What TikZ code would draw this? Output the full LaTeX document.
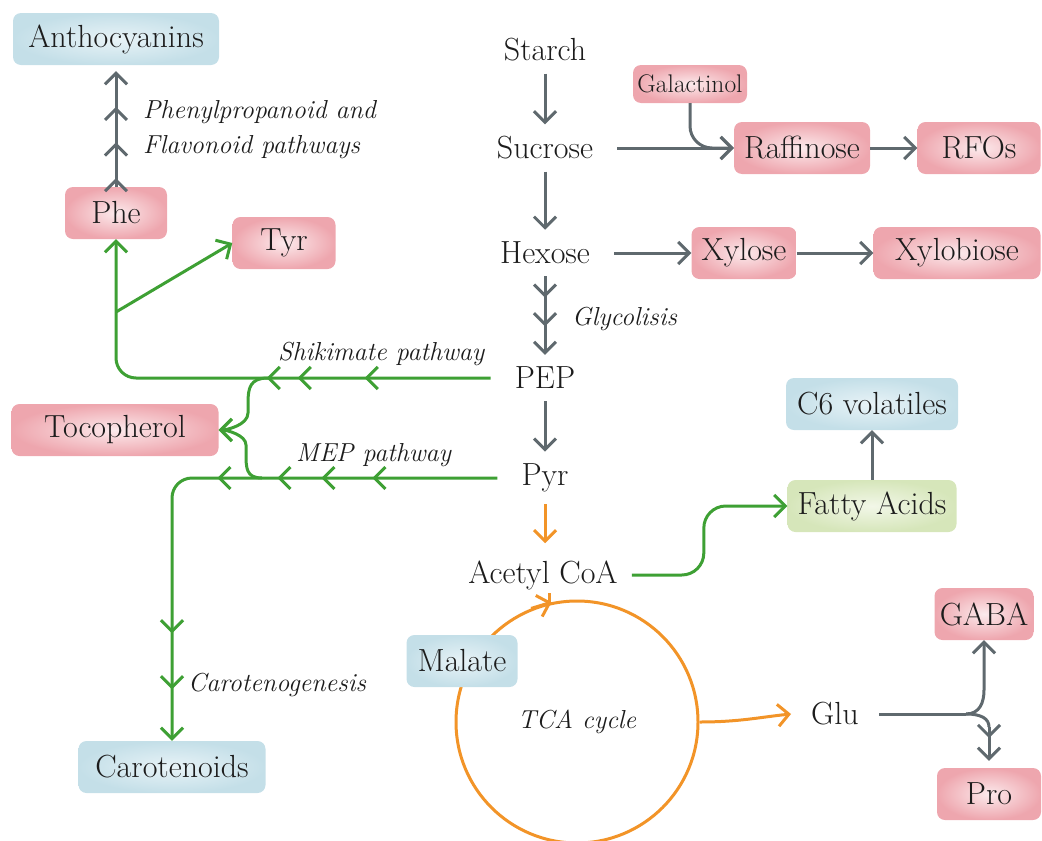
\documentclass[tikz,border=0pt]{standalone}
\usepackage{fontspec}
\usetikzlibrary{arrows.meta,decorations.markings}

\definecolor{pathgray}{RGB}{95,105,110}
\definecolor{pathgreen}{RGB}{62,160,52}
\definecolor{pathorange}{RGB}{242,148,40}
\definecolor{pinkin}{RGB}{252,234,236}
\definecolor{pinkout}{RGB}{238,166,174}
\definecolor{bluein}{RGB}{232,243,247}
\definecolor{blueout}{RGB}{196,223,232}
\definecolor{greenin}{RGB}{242,247,232}
\definecolor{greenout}{RGB}{214,230,186}
\definecolor{inkgray}{RGB}{28,28,28}

\newcommand{\bigtext}{\fontsize{32}{36}\selectfont}
\newcommand{\pathtext}{\fontsize{26}{35}\selectfont\itshape}

\begin{document}
\begin{tikzpicture}[x=1pt, y=-1pt,
  >={Straight Barb[length=11pt,width=22pt]},
  every node/.style={text=inkgray, font=\bigtext},
  metab/.style={inner xsep=24pt, inner ysep=12pt},
  roundbox/.style={rounded corners=8pt, minimum height=52pt, inner sep=0pt},
  pinkbox/.style={roundbox, inner color=pinkin, outer color=pinkout},
  bluebox/.style={roundbox, inner color=bluein, outer color=blueout},
  greenbox/.style={roundbox, inner color=greenin, outer color=greenout},
  pathlabel/.style={font=\pathtext, anchor=west, inner sep=0pt},
  grayline/.style={draw, color=pathgray, line width=3pt},
  greenline/.style={draw, color=pathgreen, line width=3pt},
  orangeline/.style={draw, color=pathorange, line width=3pt},
  tipat/.style={postaction={decorate, decoration={markings, mark=at position #1 with {\arrow{>}}}}},
]
\useasboundingbox (0,0) rectangle (1042,841);

% central chain
\node[metab] (starch) at (545,50) {Starch};
\node[metab] (sucrose) at (545,148) {Sucrose};
\node[metab] (hexose) at (545,253) {Hexose};
\node[metab] (pep) at (545,378) {PEP};
\node[metab] (pyr) at (545,478) {Pyr};
\node[metab, inner xsep=14pt, inner ysep=17pt] (acoa) at (543,575) {Acetyl CoA};
\node[metab, inner xsep=20pt] (glu) at (835,714) {Glu};

% products
\node[bluebox, minimum width=206pt] (antho) at (116,39) {Anthocyanins};
\node[pinkbox, minimum width=102pt] (phe) at (116,213) {Phe};
\node[pinkbox, minimum width=103pt] (tyr) at (284,243) {Tyr};
\node[pinkbox, minimum width=207pt] (toco) at (115,430) {Tocopherol};
\node[bluebox, minimum width=187pt] (carot) at (172,767) {Carotenoids};
\node[pinkbox, minimum width=114pt, minimum height=38pt, font=\fontsize{25.5}{28}\selectfont] (galact) at (690,84) {Galactinol};
\node[pinkbox, minimum width=136pt] (raff) at (802,148) {Raffinose};
\node[pinkbox, minimum width=123pt] (rfo) at (979,148) {RFOs};
\node[pinkbox, minimum width=105pt] (xylose) at (744,253) {Xylose};
\node[pinkbox, minimum width=167pt] (xylob) at (957,253) {Xylobiose};
\node[bluebox, minimum width=172pt] (c6) at (872,404) {C6 volatiles};
\node[greenbox, minimum width=169pt] (fa) at (872,506) {Fatty Acids};
\node[pinkbox, minimum width=99pt] (gaba) at (984,614) {GABA};
\node[pinkbox, minimum width=104pt] (pro) at (989,794) {Pro};

\node[circle, orangeline, text=inkgray, minimum size=242pt, font=\pathtext] (tca) at (577,722) {TCA cycle};
\node[bluebox, minimum width=111pt] (malate) at (462,661) {Malate};

% pathway names
\node[pathlabel, align=left] (phenyl) at (143,130) {Phenylpropanoid and\\Flavonoid pathways};
\node[pathlabel] (shik) at (278,354) {Shikimate pathway};
\node[pathlabel] (mep) at (296,455) {MEP pathway};
\node[pathlabel] (glyco) at (572,319) {Glycolisis};
\node[pathlabel] (carotgen) at (188,685) {Carotenogenesis};

\coordinate (tyrfork) at (116,312);
\coordinate (shkfork) at (268,378);
\coordinate (mepfork) at (262,478);
\coordinate (gsplit) at (966,714);
\coordinate (proturn) at (989,727);

% gray arrows
\draw[grayline,->] (starch) -- (sucrose);
\draw[grayline,->] (sucrose) -- (hexose);
\draw[grayline,-{>[sep=14pt]>[sep=14pt]>}] (hexose) -- (pep);
\draw[grayline,->] (pep) -- (pyr);
\draw[grayline,->] (sucrose) -- (raff);
\draw[grayline,->,rounded corners=22pt] (galact) |- (raff.west);
\draw[grayline,->] (raff) -- (rfo);
\draw[grayline,->] (hexose) -- (xylose);
\draw[grayline,->] (xylose) -- (xylob);
\draw[grayline,-{>[sep=21pt]>[sep=21pt]>[sep=21pt]>},shorten >=6pt] (phe) -- (antho);
\draw[grayline,->] (fa) -- (c6);
\draw[grayline] (glu) -- (gsplit);
\draw[grayline,->] (gsplit) .. controls +(14,0) and +(0,12) .. ++(18,-24) -- (gaba);
\draw[grayline] (gsplit) .. controls +(16,0) and +(0,-8) .. (proturn);
\draw[grayline,->,shorten >=7pt,tipat=11pt] (proturn) -- (pro);

% green arrows
\draw[greenline,->,rounded corners=20pt,tipat=126pt,tipat=193pt,tipat=224pt] (pep) -| (phe);
\draw[greenline,->] (tyrfork) -- (tyr.west);
\draw[greenline,->,rounded corners=20pt,tipat=125pt,tipat=176pt,tipat=220pt,tipat=280pt,tipat=472pt,tipat=528pt] (pyr) -| (carot);
\draw[greenline,->] (shkfork) .. controls +(-18,0) and +(0,-15) .. ++(-20,25) -- ++(0,10) .. controls +(0,12) and +(8,0) .. (toco.east);
\draw[greenline,->] (mepfork) .. controls +(-16,0) and +(0,15) .. ++(-16,-25) -- ++(0,-8) .. controls +(0,-10) and +(8,0) .. (toco.east);
\draw[greenline,->,rounded corners=22pt] (acoa.east) -- ++(72,0) |- (fa.west);

% orange arrows
\draw[orangeline,->] (pyr) -- (acoa.north -| pyr);
\draw[orangeline] (tca.103) -- ++(0,-10);
\draw[orangeline,->] (tca.112) -- (tca.102);
\draw[orangeline,->] (tca.east) .. controls +(40,0) and +(-30,3) .. (glu.west);
\end{tikzpicture}
\end{document}
